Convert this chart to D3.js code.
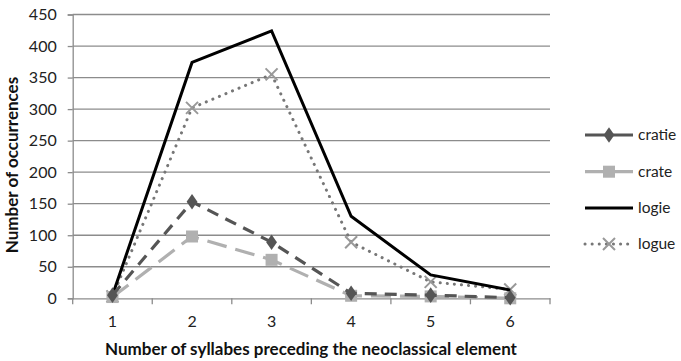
<!DOCTYPE html>
<html><head><meta charset="utf-8">
<script src="https://cdn.jsdelivr.net/npm/d3@7"></script>
<style>body{margin:0;background:#fff}svg{display:block}</style>
</head><body><svg id="c" width="681" height="361"></svg>
<script>
const categories = ["1","2","3","4","5","6"];
const cratie = [5,153,89,8,5,1];
const crate  = [2,98,61,4,3,0];
const logie  = [5,374,424,130,37,13];
const logue  = [3,302,355,89,26,14];
const yTicks = [0,50,100,150,200,250,300,350,400,450];
const seriesNames = ["cratie","crate","logie","logue"];

const svg = d3.select("#c");
const font = "Lato, 'Open Sans', sans-serif";
const x = d3.scaleBand().domain(categories).range([72.7,550]);
const y = d3.scaleLinear().domain([0,450]).range([298.3,14.5]);

// gridlines
svg.append("g").selectAll("line").data(yTicks.filter(d=>d>0)).join("line")
  .attr("x1",72.7).attr("x2",550).attr("y1",d=>y(d)).attr("y2",d=>y(d))
  .attr("stroke","#8c8c8c").attr("stroke-width",1.3);

// y axis
const ya = svg.append("g").attr("transform","translate(72.7,0)")
  .call(d3.axisLeft(y).tickValues(yTicks).tickSize(5).tickPadding(11));
ya.select(".domain").attr("stroke","#8c8c8c").attr("stroke-width",1.3);
ya.selectAll(".tick line").attr("stroke","#8c8c8c").attr("stroke-width",1.3);
ya.selectAll("text").attr("font-family",font).attr("font-size",16).attr("fill","#222");

// x axis
const xa = svg.append("g").attr("transform","translate(0,298.3)")
  .call(d3.axisBottom(x).tickSize(0).tickPadding(17));
xa.select(".domain").attr("stroke","#8c8c8c").attr("stroke-width",1.3);
xa.selectAll("text").attr("font-family",font).attr("font-size",16).attr("fill","#222");
// boundary ticks
const bounds = categories.map(c=>x(c)).concat([x(categories[categories.length-1])+x.bandwidth()]);
xa.append("g").selectAll("line").data(bounds).join("line")
  .attr("x1",d=>d).attr("x2",d=>d).attr("y1",0).attr("y2",6)
  .attr("stroke","#8c8c8c").attr("stroke-width",1.3);

const cx = c => x(c) + x.bandwidth()/2;
const styles = {
  cratie:{data:cratie,color:"#555555",width:3.2,dash:"12,8",cap:"butt",marker:"diamond"},
  crate:{data:crate,color:"#b0b0b0",width:3.2,dash:"20,9",cap:"butt",marker:"square"},
  logie:{data:logie,color:"#000000",width:3,dash:null,cap:"butt",marker:null},
  logue:{data:logue,color:"#777777",width:3,dash:"0.1,7",cap:"round",marker:"x"}
};
const line = d3.line().x((d,i)=>cx(categories[i])).y(d=>y(d));

function drawMarker(g, type, color, px, py){
  if(type==="diamond"){
    g.append("path").attr("d",d3.symbol(d3.symbolDiamond,70)()).attr("transform",`translate(${px},${py}) scale(1.2,1)`).attr("fill",color);
  } else if(type==="square"){
    g.append("rect").attr("x",px-6).attr("y",py-6).attr("width",12).attr("height",12).attr("fill",color);
  } else if(type==="x"){
    g.append("path").attr("d",`M${px-6},${py-6}L${px+6},${py+6}M${px-6},${py+6}L${px+6},${py-6}`)
      .attr("stroke","#999").attr("stroke-width",2);
  }
}

const order = ["logue","logie","crate","cratie"];
order.forEach(name=>{
  const s = styles[name];
  const g = svg.append("g");
  g.append("path").datum(s.data).attr("d",line).attr("fill","none")
    .attr("stroke",s.color).attr("stroke-width",s.width)
    .attr("stroke-dasharray",s.dash).attr("stroke-linecap",s.cap).attr("stroke-linejoin","miter");
  if(s.marker) s.data.forEach((v,i)=>drawMarker(g,s.marker,s.color,cx(categories[i]),y(v)));
});

// legend
const legY = [135,171.7,208,244];
seriesNames.forEach((name,i)=>{
  const s = styles[name];
  const g = svg.append("g");
  const ly = legY[i];
  g.append("line").attr("x1",585).attr("x2",633).attr("y1",ly).attr("y2",ly)
    .attr("stroke",s.color).attr("stroke-width",s.width)
    .attr("stroke-dasharray",name==="logue"?"0.1,7":null).attr("stroke-linecap",name==="logue"?"round":"butt");
  if(s.marker) drawMarker(g,s.marker,s.color,609,ly);
  g.append("text").attr("x",638).attr("y",ly+5).text(name)
    .attr("font-family",font).attr("font-size",15.5).attr("fill","#222");
});

// titles
svg.append("text").attr("x",311).attr("y",355).attr("text-anchor","middle")
  .attr("font-family",font).attr("font-weight","bold").attr("font-size",17).attr("fill","#111")
  .text("Number of syllabes preceding the neoclassical element");
svg.append("text").attr("transform","translate(18,165) rotate(-90)").attr("text-anchor","middle")
  .attr("font-family",font).attr("font-weight","bold").attr("font-size",17).attr("fill","#111")
  .text("Number of occurrences");
</script></body></html>
